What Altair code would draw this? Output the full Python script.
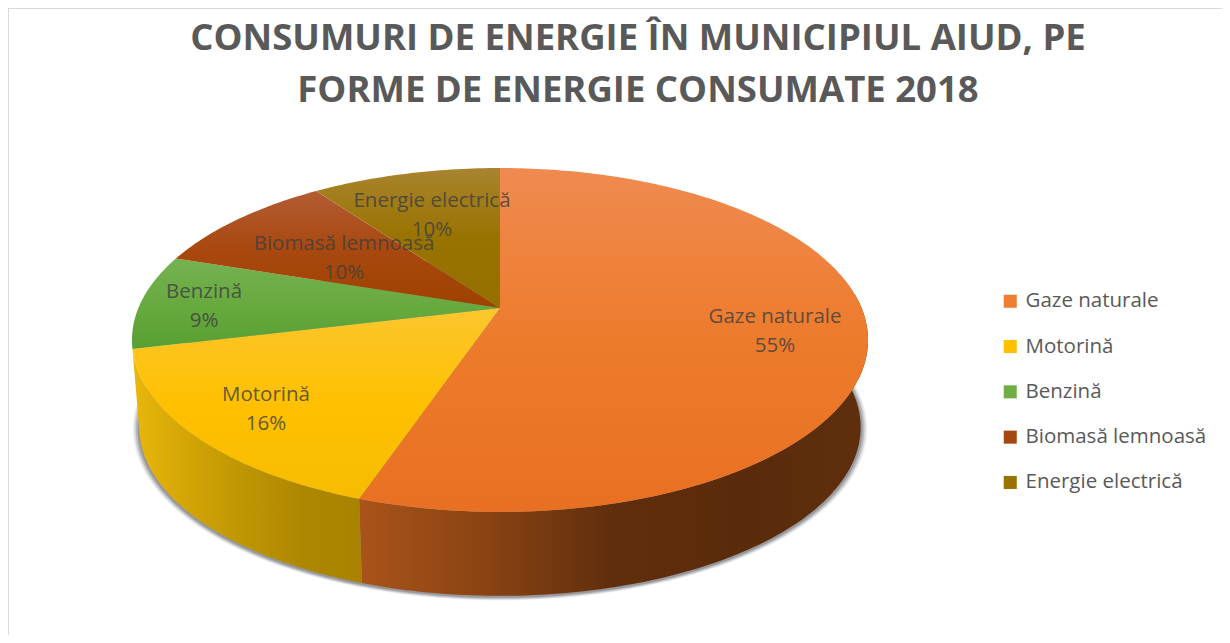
import math
import altair as alt

categories = ["Gaze naturale", "Motorină", "Benzină", "Biomasă lemnoasă", "Energie electrică"]
shares = [55.2, 16.0, 8.9, 9.95, 9.95]
title_lines = ["CONSUMURI DE ENERGIE ÎN MUNICIPIUL AIUD, PE", "FORME DE ENERGIE CONSUMATE 2018"]
legend_colors = ["#ed7d31", "#ffc000", "#70ad47", "#a5480f", "#997300"]

top_grad = [
    ["#ef8a50", "#ed7b2c", "#e97022"],
    ["#fcc62e", "#ffc000", "#f7bc00"],
    ["#74b250", "#68aa40", "#589f32"],
    ["#b25c34", "#a9480f", "#9e4200"],
    ["#a8842f", "#997300", "#947000"],
]
side_grad = {
    0: ["#a9531a", "#8a4312", "#602e0c", "#5a2b0b", "#5f2f0d"],
    1: ["#e9b70c", "#d2a405", "#bd9403", "#ae8701", "#a98200"],
}

W, H = 1214, 627
OX, OY = 8, 8
CX, AY = 500 - OX, 308 - OY
K, RX, RY = 0.186, 361.6, 166.0
BOTTOM_Y, BOTTOM_S = 396 - OY, 0.98


def ring(a_deg, ay=AY, s=1.0):
    a = math.radians(a_deg)
    x, y = math.sin(a), -math.cos(a)
    d = 1 - K * y
    return [CX + s * RX * x / d, ay + s * RY * y / d]


def arc(a0, a1, ay=AY, s=1.0):
    n = max(2, int(abs(a1 - a0)) + 1)
    return [ring(a0 + (a1 - a0) * i / (n - 1), ay, s) for i in range(n)]


def feature(points):
    pts = points + [points[0]]
    return {"type": "Feature", "properties": {}, "geometry": {"type": "Polygon", "coordinates": [pts]}}


def shape(points, fill, **kw):
    return alt.Chart(alt.Data(values=[feature(points)])).mark_geoshape(
        fill=fill, stroke=None, **kw
    ).project(type="identity", scale=1, translate=[0, 0])


def grad(colors, horizontal):
    n = len(colors) - 1
    return alt.Gradient(
        gradient="linear", x1=0, y1=0, x2=1 if horizontal else 0, y2=0 if horizontal else 1,
        stops=[alt.GradientStop(offset=i / n, color=c) for i, c in enumerate(colors)],
    )


angles = [0.0]
for v in shares:
    angles.append(angles[-1] + 360.0 * v / sum(shares))

layers = []

# soft shadow under the disc
for dx_grow, op in [(1.018, 0.08), (1.014, 0.12), (1.010, 0.18), (1.005, 0.25)]:
    layers.append(shape(arc(0, 359, BOTTOM_Y + 1, BOTTOM_S * dx_grow), "#30343c", opacity=op))

# rim of the disc
rim = {0: (85, angles[1]), 1: (angles[1], angles[2])}
for i, (a0, a1) in rim.items():
    pts = arc(a0, a1) + arc(a1, a0, BOTTOM_Y, BOTTOM_S)
    layers.append(shape(pts, grad(side_grad[i], True)))

# top faces
for i in range(len(shares)):
    pts = [[CX, AY]] + arc(angles[i], angles[i + 1])
    layers.append(shape(pts, grad(top_grad[i], False)))

# slice labels
label_x = [775, 266, 204, 344, 432]
label_y = [317, 395, 292, 244, 201]
label_rows = [
    {"t": f"{c}\n{round(v)}%", "x": x - OX, "y": y - OY}
    for c, v, x, y in zip(categories, shares, label_x, label_y)
]
x_scale = alt.Scale(domain=[0, W], range=[0, W])
y_scale = alt.Scale(domain=[0, H], range=[0, H])
layers.append(
    alt.Chart(alt.Data(values=label_rows)).mark_text(
        font="Open Sans", fontSize=20.5, color="#404040", opacity=0.8,
        lineBreak="\n", lineHeight=29, align="center", baseline="middle",
    ).encode(
        x=alt.X("x:Q", scale=x_scale, axis=None),
        y=alt.Y("y:Q", scale=y_scale, axis=None),
        text="t:N",
    )
)

# frame edges
layers.append(alt.Chart(alt.Data(values=[{"a": 0}])).mark_rule(color="#d9d9d9", strokeWidth=2).encode(
    x=alt.value(0), y=alt.value(0), y2=alt.value(H)))
layers.append(alt.Chart(alt.Data(values=[{"a": 0}])).mark_rule(color="#d9d9d9", strokeWidth=2).encode(
    y=alt.value(0), x=alt.value(0), x2=alt.value(W)))

# legend carrier
layers.append(
    alt.Chart(alt.Data(values=[{"c": c} for c in categories])).mark_square(opacity=0, size=1).encode(
        x=alt.value(-50), y=alt.value(-50),
        color=alt.Color(
            "c:N",
            scale=alt.Scale(domain=categories, range=legend_colors),
            legend=alt.Legend(
                title=None, orient="none", legendX=1000 - OX, legendY=291 - OY,
                symbolType="square", symbolSize=170, symbolOpacity=1, symbolStrokeWidth=0,
                labelFont="Open Sans", labelFontSize=20.5, labelColor="#595959",
                rowPadding=24.3, labelOffset=5, labelLimit=300,
            ),
        ),
    )
)

chart = alt.layer(*layers).properties(
    width=W, height=H, padding=0,
    autosize=alt.AutoSizeParams(type="none"),
    background="white",
    title=alt.TitleParams(
        text=title_lines, anchor="middle", dx=23, dy=156,
        font="Open Sans", fontSize=36.5, fontWeight="bold", color="#595959", lineHeight=52,
    ),
).configure_view(stroke=None)

chart.save("out.html", embed_options={"renderer": "svg", "actions": False})
